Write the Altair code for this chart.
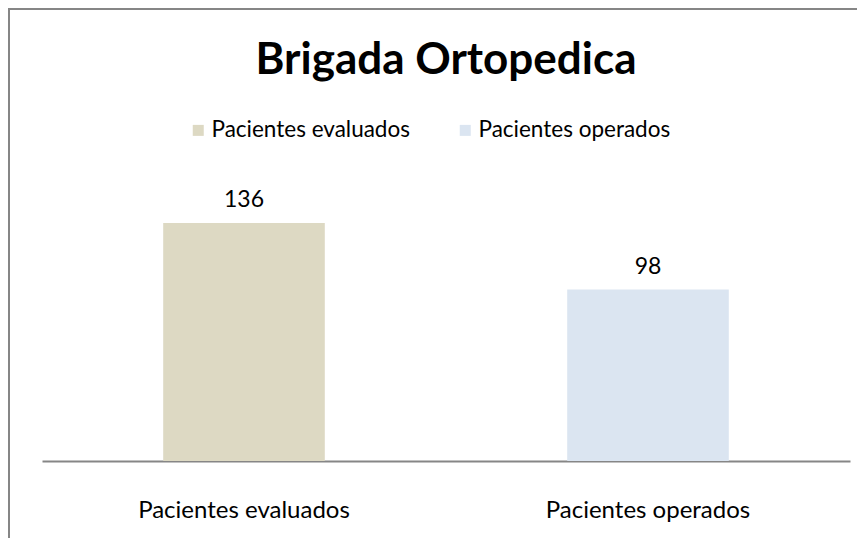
import altair as alt
import pandas as pd

categories = ["Pacientes evaluados", "Pacientes operados"]
values = [136, 98]
colors = ["#DDD9C3", "#DBE5F1"]
title_text = "Brigada Ortopedica"

df = pd.DataFrame({"cat": categories, "value": values})
FONT = "Lato"

base = alt.Chart(df)

x_enc = alt.X(
    "cat:N",
    sort=categories,
    scale=alt.Scale(paddingInner=0.6, paddingOuter=0.3),
    axis=alt.Axis(
        title=None, labelAngle=0, ticks=False, tickSize=0,
        domainColor="#868686", domainWidth=2,
        labelFont=FONT, labelFontSize=24, labelColor="#000000",
        labelBaseline="alphabetic", labelPadding=56, labelLimit=0,
    ),
)
y_enc = alt.Y("value:Q", scale=alt.Scale(domain=[0, 160]), axis=None)

bars = base.mark_bar().encode(
    x=x_enc,
    y=y_enc,
    color=alt.Color(
        "cat:N",
        sort=categories,
        scale=alt.Scale(domain=categories, range=colors),
        legend=alt.Legend(
            title=None, orient="none", direction="horizontal",
            legendX=145, legendY=-62, padding=0,
            symbolType="square", symbolSize=121, symbolStrokeWidth=0,
            symbolOpacity=1, labelFont=FONT, labelFontSize=22.5,
            labelColor="#000000", labelOffset=2, columnPadding=44,
            labelLimit=0,
        ),
    ),
)

labels = base.mark_text(
    baseline="alphabetic", dy=-16, font=FONT, fontSize=23, color="#000000"
).encode(x=alt.X("cat:N", sort=categories), y="value:Q", text="value:Q")

border = alt.Chart(pd.DataFrame({"a": [0]})).mark_rect(
    fill=None, stroke="#868686", strokeWidth=2
).encode(
    x=alt.value(-33), x2=alt.value(1200), y=alt.value(-172), y2=alt.value(1000)
)

chart = alt.layer(border, bars, labels).properties(
    width=808,
    height=280,
    padding={"left": 34, "top": 173, "right": 7, "bottom": 77},
    autosize=alt.AutoSizeParams(type="none"),
    title=alt.TitleParams(
        title_text, font=FONT, fontSize=44, fontWeight="bold",
        color="#000000", anchor="middle", offset=0,
        baseline="alphabetic", dy=110,
    ),
).configure_view(stroke=None)

chart.save("out.html", embed_options={"renderer": "svg", "actions": False})
